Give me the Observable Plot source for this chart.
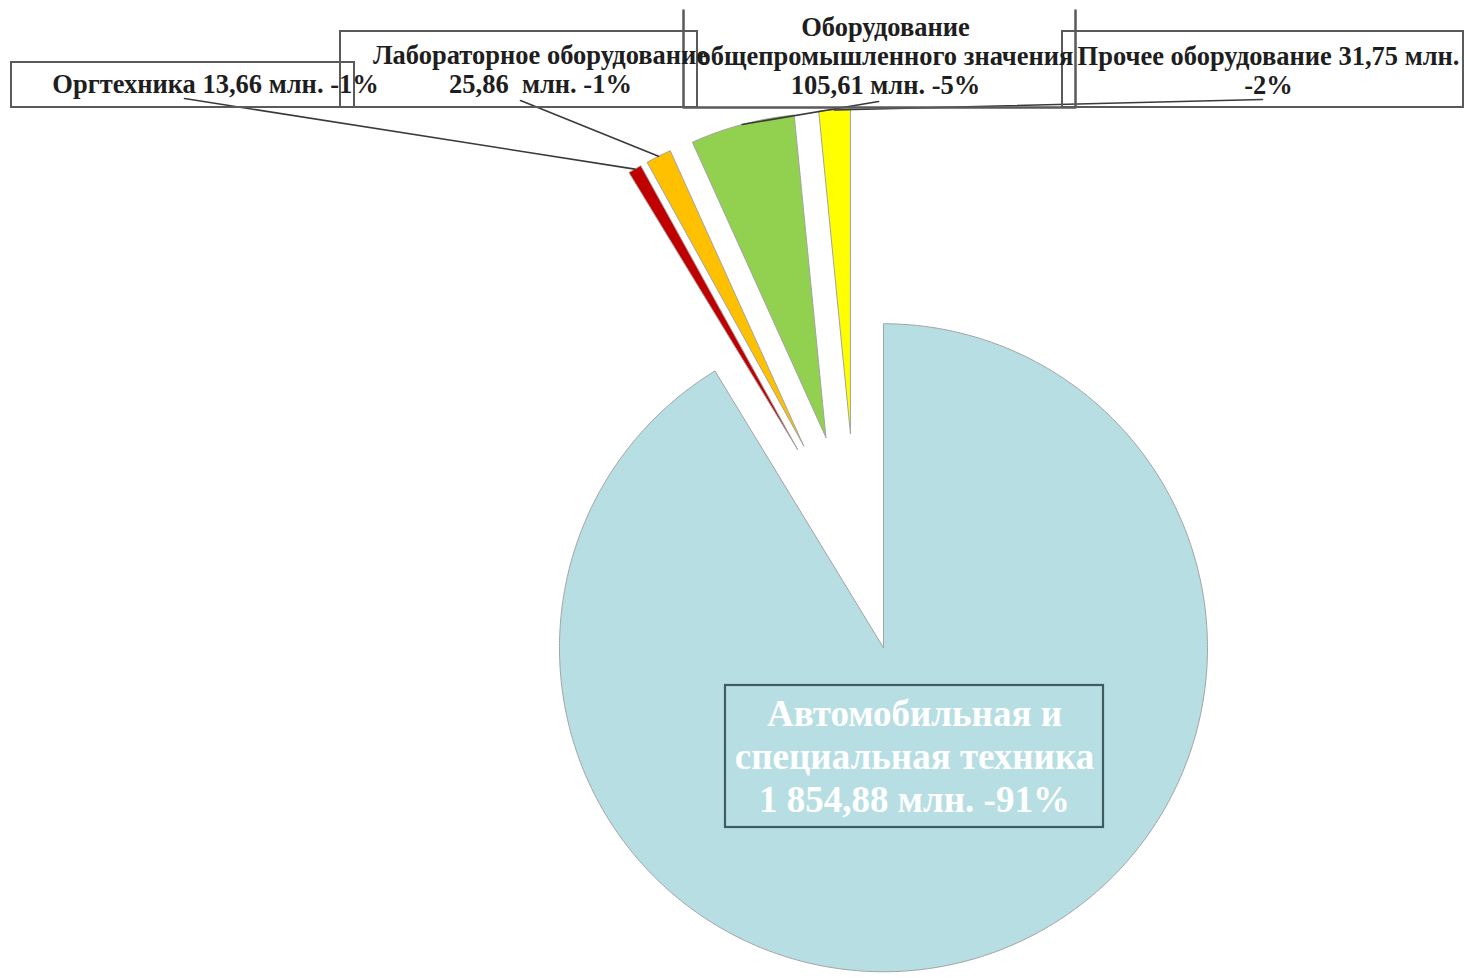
<!DOCTYPE html>
<html><head><meta charset="utf-8">
<script src="https://cdn.jsdelivr.net/npm/d3@7"></script>
<script src="https://cdn.jsdelivr.net/npm/@observablehq/plot@0.6"></script>
<style>html,body{margin:0;padding:0;background:#fff;} #chart{width:1464px;height:978px;overflow:hidden}</style>
</head><body><div id="chart"></div>
<script>
// ---- data ----
const categories = [
  "Автомобильная и специальная техника",
  "Оргтехника",
  "Лабораторное оборудование",
  "Оборудование общепромышленного значения",
  "Прочее оборудование"
];
const values = [1854.88, 13.66, 25.86, 105.61, 31.75];
const valueLabels = ["1 854,88", "13,66", "25,86", "105,61", "31,75"];
const percents = [91, 1, 1, 5, 2];
const sliceColors = ["#b7dee3", "#c00000", "#ffc000", "#92d050", "#ffff00"];
const labelTexts = [
  "Автомобильная и\nспециальная техника\n1 854,88 млн. -91%",
  "Оргтехника 13,66 млн. -1%",
  "Лабораторное оборудование\n25,86  млн. -1%",
  "Оборудование\nобщепромышленного значения\n105,61 млн. -5%",
  "Прочее оборудование 31,75 млн.\n-2%"
];

// ---- layout (pixels) ----
const W = 1464, H = 978, K = 324, CX = 855.7, CY = 550;
const explodePx = [101, 117, 117, 117, 117];
const X = px => (px - CX) / K, Y = py => (CY - py) / K;
// label anchors: center x, last baseline y, leader start
const labelPos = [
  {px: 914, py: 811},
  {px: 215, py: 92, lx: 184, ly: 98},
  {px: 540, py: 92, lx: 520, ly: 100},
  {px: 885, py: 93, lx: 878, ly: 101},
  {px: 1268, py: 93, lx: 1262, ly: 99}
];
const boxes = [
  {x1: 11, x2: 354, y1: 62, y2: 107},
  {x1: 340, x2: 697, y1: 31, y2: 107},
  {x1: 1062, x2: 1463, y1: 31, y2: 107}
];
const openBox = [{x: 683, y: 10}, {x: 683, y: 107}, {x: 1075, y: 107}, {x: 1075, y: 10}];
const mainBox = {x1: 725, x2: 1103, y1: 685, y2: 827};

// ---- slice geometry from values ----
const total = d3.sum(values);
let acc = 0;
const slices = values.map((v, i) => {
  const a0 = acc / total * 2 * Math.PI; acc += v;
  const a1 = acc / total * 2 * Math.PI;
  const mid = (a0 + a1) / 2, e = explodePx[i] / K;
  return {i, name: categories[i], a0, a1, mid, ox: e * Math.sin(mid), oy: e * Math.cos(mid)};
});
const pts = [];
for (const s of slices) {
  const n = Math.max(4, Math.ceil((s.a1 - s.a0) / (Math.PI / 360)));
  pts.push({name: s.name, x: s.ox, y: s.oy});
  for (let j = 0; j <= n; j++) {
    const a = s.a0 + (s.a1 - s.a0) * j / n;
    pts.push({name: s.name, x: s.ox + Math.sin(a), y: s.oy + Math.cos(a)});
  }
  pts.push({name: s.name, x: s.ox, y: s.oy});
}
const leaders = [];
slices.forEach((s, i) => {
  const p = labelPos[i];
  if (p.lx == null) return;
  leaders.push({k: i, x: X(p.lx), y: Y(p.ly)});
  leaders.push({k: i, x: s.ox + Math.sin(s.mid), y: s.oy + Math.cos(s.mid)});
});
const smallLabels = categories.map((c, i) => ({text: labelTexts[i], x: X(labelPos[i].px), y: Y(labelPos[i].py)})).slice(1);
const mainLabel = [{text: labelTexts[0], x: X(labelPos[0].px), y: Y(labelPos[0].py)}];

const font = "'Liberation Serif', 'Times New Roman', serif";
const chart = Plot.plot({
  width: W, height: H,
  margin: 0,
  x: {domain: [X(0), X(W)], axis: null},
  y: {domain: [Y(H), Y(0)], axis: null},
  color: {type: "ordinal", domain: categories, range: sliceColors},
  style: {background: "#fff", overflow: "hidden"},
  marks: [
    Plot.line(pts, {x: "x", y: "y", z: "name", fill: "name", stroke: "#a3a3a3", strokeWidth: 1, curve: "linear"}),
    Plot.line(leaders, {x: "x", y: "y", z: "k", stroke: "#3a3a3a", strokeWidth: 1.6}),
    Plot.rect(boxes, {x1: d => X(d.x1), x2: d => X(d.x2), y1: d => Y(d.y1), y2: d => Y(d.y2), fill: "none", stroke: "#5a5a5a", strokeWidth: 2}),
    Plot.line(openBox, {x: d => X(d.x), y: d => Y(d.y), stroke: "#5a5a5a", strokeWidth: 2.5}),
    Plot.rect([mainBox], {x1: d => X(d.x1), x2: d => X(d.x2), y1: d => Y(d.y1), y2: d => Y(d.y2), fill: "none", stroke: "#3e5d61", strokeWidth: 2.2}),
    Plot.text(smallLabels, {x: "x", y: "y", text: "text", lineAnchor: "bottom", lineHeight: 1.08, fontSize: 26.5, fontWeight: "bold", fontFamily: font, fill: "#1e1e1e", textAnchor: "middle"}),
    Plot.text(mainLabel, {x: "x", y: "y", text: "text", lineAnchor: "bottom", lineHeight: 1.16, fontSize: 37, fontWeight: "bold", fontFamily: font, fill: "#ffffff", textAnchor: "middle"})
  ]
});
document.getElementById("chart").appendChild(chart);
</script>
</body></html>
